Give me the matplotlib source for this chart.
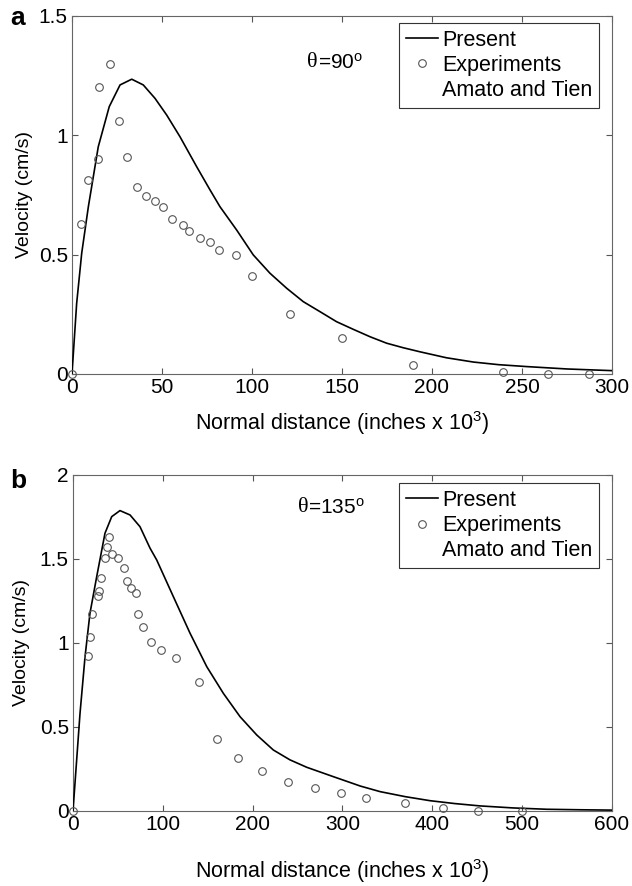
import matplotlib
matplotlib.use('Agg')
import matplotlib.pyplot as plt
from matplotlib.lines import Line2D

plt.rcParams['font.family'] = ['Liberation Sans', 'DejaVu Sans']
plt.rcParams['mathtext.default'] = 'regular'

# panel a (theta = 90)
pres_a_x = [0, 2.6, 5.4, 9.1, 14.6, 20.7, 26.7, 33.2, 39.6, 46.1, 52.6, 60, 69.3, 76.7,
            82.2, 91.5, 100.7, 110, 119.3, 128.5, 137.8, 147, 156.3, 165.6, 174.8, 184,
            193.3, 208, 223, 237, 252.6, 275, 300]
pres_a_y = [0, 0.296, 0.506, 0.701, 0.952, 1.12, 1.211, 1.235, 1.211, 1.155, 1.085, 0.994,
            0.868, 0.771, 0.701, 0.603, 0.499, 0.422, 0.359, 0.303, 0.261, 0.219, 0.187,
            0.156, 0.129, 0.110, 0.093, 0.068, 0.050, 0.039, 0.031, 0.021, 0.014]
exp_a_x = [0, 5.2, 8.9, 14.3, 15.2, 21.1, 25.9, 30.7, 35.9, 41.1, 46.1, 50.7, 55.6, 61.5,
           64.8, 71.1, 76.5, 81.5, 90.9, 99.8, 121, 150, 189.4, 239.6, 264.6, 287.4]
exp_a_y = [0, 0.628, 0.811, 0.899, 1.201, 1.300, 1.059, 0.908, 0.785, 0.747, 0.723, 0.698,
           0.651, 0.624, 0.599, 0.571, 0.552, 0.520, 0.500, 0.409, 0.251, 0.149, 0.039,
           0.010, 0.0, 0.0]

# panel b (theta = 135)
pres_b_x = [0, 7.8, 13.4, 18.9, 26.4, 35.6, 43.1, 52.3, 63.5, 74.6, 85.7, 93.2, 111.7,
            130.3, 148.9, 167.4, 186, 204.6, 223, 241.6, 260.2, 289.9, 320, 341.9, 370,
            397.6, 425, 453.2, 490, 527.5, 565, 600]
pres_b_y = [0, 0.58, 0.918, 1.177, 1.395, 1.653, 1.752, 1.788, 1.762, 1.692, 1.565, 1.494,
            1.276, 1.058, 0.859, 0.70, 0.561, 0.452, 0.363, 0.304, 0.26, 0.204, 0.148,
            0.115, 0.085, 0.061, 0.044, 0.030, 0.018, 0.010, 0.007, 0.005]
exp_b_x = [0, 17.1, 18.9, 21.5, 28.2, 29.3, 31.2, 35.6, 38.2, 40.4, 43.1, 50.5, 57.2, 59.8,
           64.3, 70.2, 72.4, 78.3, 87.2, 98, 114.7, 140.3, 160.4, 183.4, 210.5, 239.5,
           269.1, 298.1, 326.3, 370, 412.4, 450.6, 500]
exp_b_y = [0, 0.923, 1.038, 1.171, 1.28, 1.31, 1.389, 1.508, 1.569, 1.629, 1.530, 1.508,
           1.448, 1.369, 1.329, 1.30, 1.171, 1.097, 1.008, 0.96, 0.913, 0.768, 0.427, 0.313,
           0.236, 0.173, 0.135, 0.105, 0.079, 0.048, 0.016, 0.0, 0.0]

xticks_a = [0, 50, 100, 150, 200, 250, 300]
yticks_a = [0, 0.5, 1, 1.5]
xticks_b = [0, 100, 200, 300, 400, 500, 600]
yticks_b = [0, 0.5, 1, 1.5, 2]

xlabel = 'Normal distance (inches x 10$^3$)'
ylabel = 'Velocity (cm/s)'

fig = plt.figure(figsize=(6.32, 8.86), dpi=100)
ax_a = fig.add_axes([0.1139, 0.5779, 0.8544, 0.4041])
ax_b = fig.add_axes([0.1155, 0.0847, 0.8528, 0.3792])

panels = [
    (ax_a, pres_a_x, pres_a_y, exp_a_x, exp_a_y, xticks_a, yticks_a, 'a', '90',
     (0.435, 0.869), (0.976, 0.980), -0.072, -0.098, -0.002),
    (ax_b, pres_b_x, pres_b_y, exp_b_x, exp_b_y, xticks_b, yticks_b, 'b', '135',
     (0.417, 0.902), (0.976, 0.975), -0.080, -0.138, -0.007),
]

for ax, px, py, ex, ey, xt, yt, tag, ang, tpos, lpos, ylx, xly, tag_dy in panels:
    ax.plot(px, py, color='black', lw=1.2, zorder=3)
    ax.plot(ex, ey, ls='none', marker='o', ms=5.5, mfc='none', mec='#555555', mew=0.8,
            clip_on=False, zorder=4)
    ax.set_xlim(xt[0], xt[-1])
    ax.set_ylim(yt[0], yt[-1])
    ax.set_xticks(xt)
    ax.set_xticklabels([str(v) for v in xt])
    ax.set_yticks(yt)
    ax.set_yticklabels([('%g' % v) for v in yt])
    ax.tick_params(direction='in', top=True, right=True, length=4, width=0.8,
                   color='#555555', labelsize=15, pad=3)
    for s in ax.spines.values():
        s.set_color('#666666')
        s.set_linewidth(0.8)
    ax.set_ylabel(ylabel, fontsize=14)
    ax.yaxis.set_label_coords(ylx, 0.5)
    ax.set_xlabel(xlabel, fontsize=15.5, va='top')
    ax.xaxis.set_label_coords(0.5, xly)

    # theta annotation: serif theta followed by sans text
    t1 = ax.text(tpos[0], tpos[1], 'θ', transform=ax.transAxes, fontsize=16,
                 family='Liberation Serif', va='center', ha='left')
    ax.annotate('=' + ang + '$^o$', xy=(1, 0.5), xycoords=t1, va='center', ha='left',
                fontsize=15)

    handles = [Line2D([], [], color='black', lw=1.2),
               Line2D([], [], ls='none', marker='o', ms=5.5, mfc='none', mec='#555555',
                      mew=0.8),
               Line2D([], [], ls='none')]
    leg = ax.legend(handles, ['Present', 'Experiments', 'Amato and Tien'],
                    loc='upper right', bbox_to_anchor=lpos, borderaxespad=0,
                    fontsize=15.5, frameon=True, fancybox=False, framealpha=1,
                    edgecolor='#333333', handlelength=1.5, handletextpad=0.2,
                    labelspacing=0.2, borderpad=0.3)
    leg.get_frame().set_linewidth(0.8)

    fig.text(0.016, ax.get_position().y1 + tag_dy, tag, fontsize=19, fontweight='bold',
             va='center', ha='left')

fig.savefig('out.png', dpi=100)
